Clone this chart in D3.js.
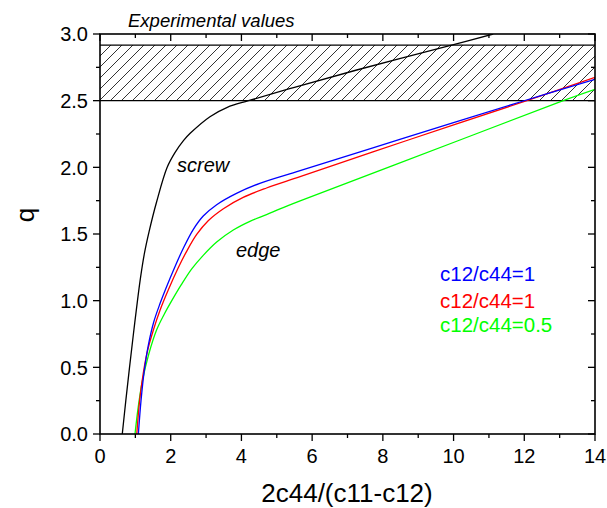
<!DOCTYPE html>
<html>
<head>
<meta charset="utf-8">
<script src="https://d3js.org/d3.v7.min.js"></script>
<style>
  body { margin: 0; background: #fff; }
  svg { font-family: "Liberation Sans", Arial, sans-serif; }
</style>
</head>
<body>
<div class="chart"></div>
<script>
// curve readings, x = 2c44/(c11-c12), q
var screwX = [0.63, 0.73, 0.835, 0.945, 1.06, 1.15, 1.26, 1.39, 1.60, 1.90, 2.12, 2.36, 2.55, 3.11, 3.60, 4.20, 5.50, 7.26, 10.0, 11.12];
var screwQ = [0.0, 0.25, 0.50, 0.75, 1.0, 1.18, 1.36, 1.52, 1.74, 2.0, 2.11, 2.2, 2.255, 2.38, 2.45, 2.5, 2.6, 2.73, 2.92, 3.0];

var blueX = [1.085, 1.16, 1.25, 1.37, 1.52, 1.70, 1.86, 2.12, 2.36, 2.64, 2.92, 3.30, 3.86, 4.52, 5.66, 8.48, 11.88, 14.0];
var blueQ = [0.0, 0.25, 0.47, 0.67, 0.84, 0.98, 1.09, 1.255, 1.395, 1.535, 1.635, 1.72, 1.805, 1.88, 1.975, 2.21, 2.49, 2.66];

var redX = [1.04, 1.12, 1.22, 1.35, 1.51, 1.70, 1.93, 2.21, 2.45, 2.73, 3.06, 3.49, 4.05, 4.71, 5.66, 8.72, 12.07, 14.0];
var redQ = [0.0, 0.25, 0.45, 0.63, 0.78, 0.93, 1.08, 1.245, 1.37, 1.495, 1.60, 1.69, 1.775, 1.845, 1.93, 2.205, 2.5, 2.675];

var greenX = [0.99, 1.08, 1.20, 1.38, 1.60, 1.82, 2.03, 2.30, 2.60, 2.92, 3.30, 3.77, 4.24, 4.71, 5.09, 5.66, 10.18, 13.1, 14.0];
var greenQ = [0.0, 0.2, 0.4, 0.6, 0.78, 0.9, 1.0, 1.12, 1.24, 1.34, 1.44, 1.53, 1.595, 1.645, 1.688, 1.748, 2.205, 2.5, 2.585];

var bandQ = [2.5, 2.917];
var xTicks = [0, 2, 4, 6, 8, 10, 12, 14];
var yTicks = [0.0, 0.5, 1.0, 1.5, 2.0, 2.5, 3.0];
var legendLabels = ["c12/c44=1", "c12/c44=1", "c12/c44=0.5"];
var legendColors = ["#0000ff", "#ff0000", "#00ff00"];

var svgWidth = 607, svgHeight = 508;
var margin = { top: 34, right: 12, bottom: 74, left: 100 };
var width = 595 - margin.left;
var height = 434 - margin.top;

var svg = d3.select(".chart").append("svg")
  .attr("width", svgWidth)
  .attr("height", svgHeight);

var defs = svg.append("defs");
defs.append("pattern")
  .attr("id", "hatch")
  .attr("patternUnits", "userSpaceOnUse")
  .attr("width", 11).attr("height", 11)
  .append("path")
  .attr("d", "M0,11 L11,0 M-1,1 L1,-1 M10,12 L12,10")
  .attr("stroke", "#000")
  .attr("stroke-width", 0.8);

defs.append("clipPath").attr("id", "clip")
  .append("rect").attr("width", width).attr("height", height);

var chart = svg.append("g")
  .attr("transform", "translate(" + margin.left + "," + margin.top + ")");

var x = d3.scaleLinear().domain([0, 14]).range([0, width]);
var y = d3.scaleLinear().domain([0, 3]).range([height, 0]);

// hatched band of experimental values
chart.append("rect")
  .attr("x", 0)
  .attr("y", y(bandQ[1]))
  .attr("width", width)
  .attr("height", y(bandQ[0]) - y(bandQ[1]))
  .attr("fill", "url(#hatch)")
  .attr("stroke", "none");
bandQ.forEach(function(v) {
  chart.append("line")
    .attr("x1", 0).attr("x2", width)
    .attr("y1", y(v)).attr("y2", y(v))
    .attr("stroke", "#000").attr("stroke-width", 1.2);
});

// curves
var line = d3.line()
  .x(function(d) { return x(d[0]); })
  .y(function(d) { return y(d[1]); })
  .curve(d3.curveCatmullRom.alpha(0.5));

var series = [
  { xs: screwX, qs: screwQ, color: "#000000" },
  { xs: greenX, qs: greenQ, color: "#00ff00" },
  { xs: redX, qs: redQ, color: "#ff0000" },
  { xs: blueX, qs: blueQ, color: "#0000ff" }
];
series.forEach(function(s) {
  chart.append("path")
    .datum(d3.zip(s.xs, s.qs))
    .attr("clip-path", "url(#clip)")
    .attr("fill", "none")
    .attr("stroke", s.color)
    .attr("stroke-width", 1.3)
    .attr("d", line);
});

// axes
var minorX = d3.range(0, 14.01, 1);
var minorY = d3.range(0, 3.01, 0.25);

function drawTicks(vals, scale, major, horizontal, pos, dir) {
  vals.forEach(function(v) {
    var len = (major.indexOf(v) >= 0) ? 7 : 4;
    if (horizontal) {
      chart.append("line")
        .attr("x1", scale(v)).attr("x2", scale(v))
        .attr("y1", pos).attr("y2", pos + dir * len)
        .attr("stroke", "#000").attr("stroke-width", 1.3);
    } else {
      chart.append("line")
        .attr("y1", scale(v)).attr("y2", scale(v))
        .attr("x1", pos).attr("x2", pos + dir * len)
        .attr("stroke", "#000").attr("stroke-width", 1.3);
    }
  });
}
drawTicks(minorX, x, xTicks, true, height, 1);
drawTicks(minorX, x, xTicks, true, 0, 1);
drawTicks(minorY, y, yTicks, false, 0, -1);
drawTicks(minorY, y, yTicks, false, width, -1);

chart.append("rect")
  .attr("width", width).attr("height", height)
  .attr("fill", "none")
  .attr("stroke", "#000").attr("stroke-width", 1.6);

chart.selectAll(".xlab").data(xTicks).enter().append("text")
  .attr("class", "xlab")
  .attr("x", function(d) { return x(d); })
  .attr("y", height + 29)
  .attr("text-anchor", "middle")
  .attr("font-size", 20)
  .text(function(d) { return d; });

chart.selectAll(".ylab").data(yTicks).enter().append("text")
  .attr("class", "ylab")
  .attr("x", -12)
  .attr("y", function(d) { return y(d); })
  .attr("dy", "0.36em")
  .attr("text-anchor", "end")
  .attr("font-size", 20)
  .text(function(d) { return d.toFixed(1); });

// axis titles
svg.append("text")
  .attr("x", 347)
  .attr("y", 502)
  .attr("text-anchor", "middle")
  .attr("font-size", 26)
  .text("2c44/(c11-c12)");

svg.append("text")
  .attr("transform", "translate(34,215) rotate(-90)")
  .attr("text-anchor", "middle")
  .attr("font-size", 26)
  .text("q");

// annotations
svg.append("text")
  .attr("x", 128).attr("y", 27)
  .attr("font-size", 18.5)
  .attr("font-style", "italic")
  .text("Experimental values");

svg.append("text")
  .attr("x", 177).attr("y", 172)
  .attr("font-size", 20)
  .attr("font-style", "italic")
  .text("screw");

svg.append("text")
  .attr("x", 236).attr("y", 257)
  .attr("font-size", 20)
  .attr("font-style", "italic")
  .text("edge");

var legendY = [281, 308, 332];
legendLabels.forEach(function(t, i) {
  svg.append("text")
    .attr("x", 440).attr("y", legendY[i])
    .attr("font-size", 20.5)
    .attr("fill", legendColors[i])
    .text(t);
});
</script>
</body>
</html>
